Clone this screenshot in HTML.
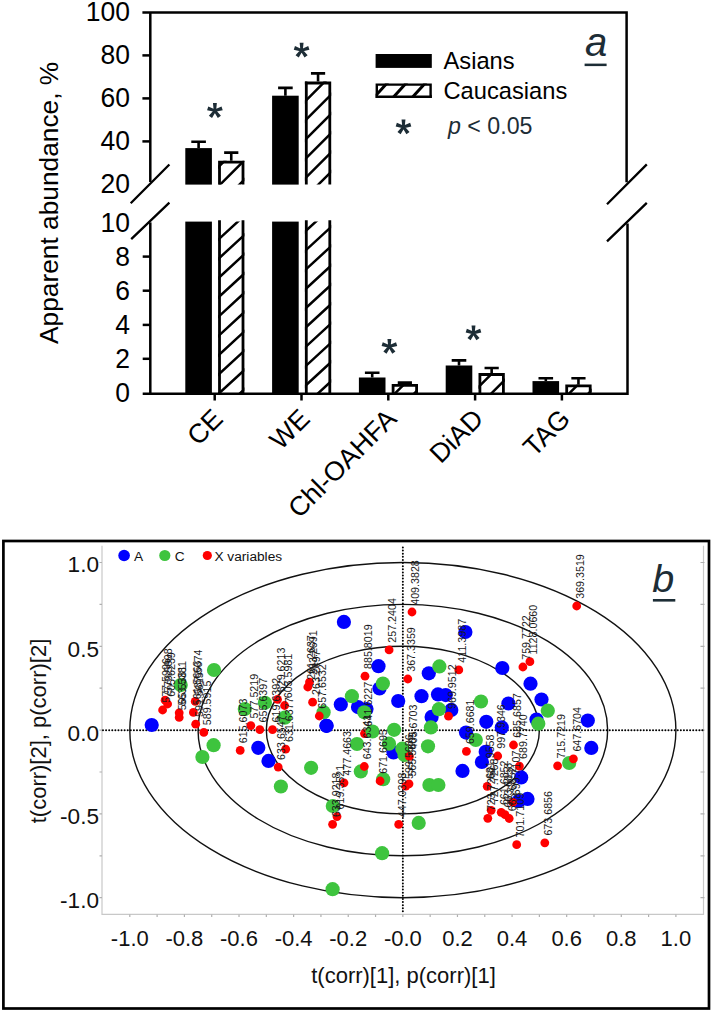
<!DOCTYPE html>
<html><head><meta charset="utf-8"><style>
html,body{margin:0;padding:0;background:#fff;}
svg{display:block;}
text{font-family:"Liberation Sans",sans-serif;}
</style></head><body>
<svg width="712" height="1013" viewBox="0 0 712 1013">
<rect width="712" height="1013" fill="#fff"/>
<g stroke="#000" stroke-width="2.5" fill="none">
<path d="M142.4 12.4H626.6 V182.3"/>
<path d="M150.3 12.4V182"/>
<path d="M142.4 55.4H150.3"/>
<path d="M142.4 98.4H150.3"/>
<path d="M142.4 141.4H150.3"/>
<path d="M150.3 222.4V393.7"/>
<path d="M142.7 393.7H627.5 V223.4"/>
<path d="M142.7 256.6H150.3"/>
<path d="M142.7 290.7H150.3"/>
<path d="M142.7 324.9H150.3"/>
<path d="M142.7 358.8H150.3"/>
<path d="M214.7 393.7V400.5"/>
<path d="M301.5 393.7V400.5"/>
<path d="M388.3 393.7V400.5"/>
<path d="M475.1 393.7V400.5"/>
<path d="M561.9 393.7V400.5"/>
<path d="M130.7 203.3L169.4 164.5M131.2 239.2L169.4 202.7" stroke-width="2.3"/>
<path d="M607 204.2L646.8 164.4M607 241.4L646.8 202.9" stroke-width="2.3"/>
</g>
<g font-family="Liberation Sans" font-size="26.5" text-anchor="end" fill="#000">
<text transform="translate(130 21.40) scale(1 1.07)">100</text>
<text transform="translate(130 64.40) scale(1 1.07)">80</text>
<text transform="translate(130 107.40) scale(1 1.07)">60</text>
<text transform="translate(130 150.40) scale(1 1.07)">40</text>
<text transform="translate(130 193.40) scale(1 1.07)">20</text>
<text transform="translate(130 231.50) scale(1 1.07)">10</text>
<text transform="translate(130 265.60) scale(1 1.07)">8</text>
<text transform="translate(130 299.70) scale(1 1.07)">6</text>
<text transform="translate(130 333.90) scale(1 1.07)">4</text>
<text transform="translate(130 367.80) scale(1 1.07)">2</text>
<text transform="translate(130 402.20) scale(1 1.07)">0</text>
</g>
<text transform="translate(58 344) rotate(-90)" font-family="Liberation Sans" font-size="26.3">Apparent abundance, %</text>
<g font-family="Liberation Sans" font-size="26.8" text-anchor="end">
<text transform="translate(224.5 420.4) rotate(-45)">CE</text>
<text transform="translate(311.3 420.4) rotate(-45)">WE</text>
<text transform="translate(398.1 420.4) rotate(-45)">Chl-OAHFA</text>
<text transform="translate(484.9 420.4) rotate(-45)">DiAD</text>
<text transform="translate(571.7 420.4) rotate(-45)">TAG</text>
</g>
<defs>
<clipPath id="cu"><rect x="0" y="0" width="712" height="184.6"/></clipPath>
<clipPath id="cl"><rect x="0" y="221.6" width="712" height="172.1"/></clipPath>
</defs>
<rect x="185.30" y="148.10" width="26.60" height="36.50"/>
<rect x="185.30" y="221.60" width="26.60" height="172.10"/>
<clipPath id="h1"><rect x="218.10" y="160.70" width="26.30" height="23.90"/></clipPath>
<path clip-path="url(#h1)" d="M213.10 172.30L249.40 136.00M213.10 191.60L249.40 155.30M213.10 210.90L249.40 174.60" stroke="#000" stroke-width="2.5" fill="none"/>
<path d="M219.50 160.70V184.60M243.00 160.70V184.60M218.10 162.10H244.40" stroke="#000" stroke-width="2.8" fill="none"/>
<clipPath id="h2"><rect x="218.10" y="221.60" width="26.30" height="172.10"/></clipPath>
<path clip-path="url(#h2)" d="M213.10 225.09L249.40 191.70M213.10 244.39L249.40 211.00M213.10 263.69L249.40 230.30M213.10 282.99L249.40 249.60M213.10 302.29L249.40 268.90M213.10 321.59L249.40 288.20M213.10 340.89L249.40 307.50M213.10 360.19L249.40 326.80M213.10 379.49L249.40 346.10M213.10 398.79L249.40 365.40M213.10 418.09L249.40 384.70" stroke="#000" stroke-width="2.5" fill="none"/>
<path d="M219.50 220.20V393.70M243.00 220.20V393.70" stroke="#000" stroke-width="2.8" fill="none"/>
<path d="M198.60 148.10V141.70M191.30 141.70H205.90" stroke="#000" stroke-width="2.6" fill="none"/>
<path d="M231.25 160.70V152.60M224.15 152.60H238.35" stroke="#000" stroke-width="2.6" fill="none"/>
<rect x="272.10" y="95.70" width="26.60" height="88.90"/>
<rect x="272.10" y="221.60" width="26.60" height="172.10"/>
<clipPath id="h3"><rect x="304.90" y="81.60" width="26.30" height="103.00"/></clipPath>
<path clip-path="url(#h3)" d="M299.90 87.20L336.20 50.90M299.90 106.50L336.20 70.20M299.90 125.80L336.20 89.50M299.90 145.10L336.20 108.80M299.90 164.40L336.20 128.10M299.90 183.70L336.20 147.40M299.90 203.00L336.20 166.70M299.90 222.30L336.20 186.00" stroke="#000" stroke-width="2.5" fill="none"/>
<path d="M306.30 81.60V184.60M329.80 81.60V184.60M304.90 83.00H331.20" stroke="#000" stroke-width="2.8" fill="none"/>
<clipPath id="h4"><rect x="304.90" y="221.60" width="26.30" height="172.10"/></clipPath>
<path clip-path="url(#h4)" d="M299.90 217.02L336.20 183.63M299.90 236.32L336.20 202.93M299.90 255.62L336.20 222.23M299.90 274.92L336.20 241.53M299.90 294.22L336.20 260.83M299.90 313.52L336.20 280.13M299.90 332.82L336.20 299.43M299.90 352.12L336.20 318.73M299.90 371.42L336.20 338.03M299.90 390.72L336.20 357.33M299.90 410.02L336.20 376.63M299.90 429.32L336.20 395.93" stroke="#000" stroke-width="2.5" fill="none"/>
<path d="M306.30 220.20V393.70M329.80 220.20V393.70" stroke="#000" stroke-width="2.8" fill="none"/>
<path d="M285.40 95.70V87.90M278.10 87.90H292.70" stroke="#000" stroke-width="2.6" fill="none"/>
<path d="M318.05 81.60V73.40M310.95 73.40H325.15" stroke="#000" stroke-width="2.6" fill="none"/>
<rect x="358.90" y="377.50" width="26.60" height="16.20"/>
<clipPath id="h5"><rect x="391.70" y="384.00" width="26.30" height="9.70"/></clipPath>
<path clip-path="url(#h5)" d="M386.70 382.40L423.00 346.10M386.70 401.70L423.00 365.40M386.70 421.00L423.00 384.70" stroke="#000" stroke-width="2.5" fill="none"/>
<path d="M393.10 384.00V393.70M416.60 384.00V393.70M391.70 385.40H418.00" stroke="#000" stroke-width="2.8" fill="none"/>
<path d="M372.20 377.50V372.80M364.90 372.80H379.50" stroke="#000" stroke-width="2.6" fill="none"/>
<path d="M404.85 384.00V382.60M397.75 382.60H411.95" stroke="#000" stroke-width="2.6" fill="none"/>
<rect x="445.70" y="365.50" width="26.60" height="28.20"/>
<clipPath id="h6"><rect x="478.50" y="373.10" width="26.30" height="20.60"/></clipPath>
<path clip-path="url(#h6)" d="M473.50 372.70L509.80 336.40M473.50 392.00L509.80 355.70M473.50 411.30L509.80 375.00M473.50 430.60L509.80 394.30" stroke="#000" stroke-width="2.5" fill="none"/>
<path d="M479.90 373.10V393.70M503.40 373.10V393.70M478.50 374.50H504.80" stroke="#000" stroke-width="2.8" fill="none"/>
<path d="M459.00 365.50V360.40M451.70 360.40H466.30" stroke="#000" stroke-width="2.6" fill="none"/>
<path d="M491.65 373.10V368.00M484.55 368.00H498.75" stroke="#000" stroke-width="2.6" fill="none"/>
<rect x="532.50" y="381.10" width="26.60" height="12.60"/>
<clipPath id="h7"><rect x="565.30" y="384.40" width="26.30" height="9.30"/></clipPath>
<path clip-path="url(#h7)" d="M560.30 383.00L596.60 346.70M560.30 402.30L596.60 366.00M560.30 421.60L596.60 385.30" stroke="#000" stroke-width="2.5" fill="none"/>
<path d="M566.70 384.40V393.70M590.20 384.40V393.70M565.30 385.80H591.60" stroke="#000" stroke-width="2.8" fill="none"/>
<path d="M545.80 381.10V378.20M538.50 378.20H553.10" stroke="#000" stroke-width="2.6" fill="none"/>
<path d="M578.45 384.40V378.20M571.35 378.20H585.55" stroke="#000" stroke-width="2.6" fill="none"/>
<path d="M216.10 110.70L216.85 103.10L212.95 103.10L213.70 110.70ZM215.27 111.84L222.73 110.21L221.53 106.50L214.53 109.56ZM213.93 111.41L217.79 117.99L220.94 115.70L215.87 109.99ZM213.93 109.99L208.86 115.70L212.01 117.99L215.87 111.41ZM215.27 109.56L208.27 106.50L207.07 110.21L214.53 111.84Z" fill="#1d2d36"/>
<circle cx="214.90" cy="110.70" r="1.9" fill="#1d2d36"/>
<path d="M302.80 50.30L303.55 42.70L299.65 42.70L300.40 50.30ZM301.97 51.44L309.43 49.81L308.23 46.10L301.23 49.16ZM300.63 51.01L304.49 57.59L307.64 55.30L302.57 49.59ZM300.63 49.59L295.56 55.30L298.71 57.59L302.57 51.01ZM301.97 49.16L294.97 46.10L293.77 49.81L301.23 51.44Z" fill="#1d2d36"/>
<circle cx="301.60" cy="50.30" r="1.9" fill="#1d2d36"/>
<path d="M390.60 346.50L391.35 338.90L387.45 338.90L388.20 346.50ZM389.77 347.64L397.23 346.01L396.03 342.30L389.03 345.36ZM388.43 347.21L392.29 353.79L395.44 351.50L390.37 345.79ZM388.43 345.79L383.36 351.50L386.51 353.79L390.37 347.21ZM389.77 345.36L382.77 342.30L381.57 346.01L389.03 347.64Z" fill="#1d2d36"/>
<circle cx="389.40" cy="346.50" r="1.9" fill="#1d2d36"/>
<path d="M474.70 333.00L475.45 325.40L471.55 325.40L472.30 333.00ZM473.87 334.14L481.33 332.51L480.13 328.80L473.13 331.86ZM472.53 333.71L476.39 340.29L479.54 338.00L474.47 332.29ZM472.53 332.29L467.46 338.00L470.61 340.29L474.47 333.71ZM473.87 331.86L466.87 328.80L465.67 332.51L473.13 334.14Z" fill="#1d2d36"/>
<circle cx="473.50" cy="333.00" r="1.9" fill="#1d2d36"/>
<rect x="375.6" y="54" width="56.2" height="13.9" fill="#000"/>
<clipPath id="h8"><rect x="375.60" y="83.40" width="56.20" height="14.60"/></clipPath>
<path clip-path="url(#h8)" d="M370.60 80.21L436.80 7.39M370.60 101.22L436.80 28.40M370.60 122.23L436.80 49.41M370.60 143.24L436.80 70.42M370.60 164.25L436.80 91.43" stroke="#000" stroke-width="3.0" fill="none"/>
<path d="M376.80 83.40V98.00M430.60 83.40V98.00M375.60 84.60H431.80M375.60 96.80H431.80" stroke="#000" stroke-width="2.4" fill="none"/>
<g font-family="Liberation Sans" font-size="23.7" fill="#000">
<text x="443.5" y="68.7">Asians</text>
<text x="443.5" y="98.8">Caucasians</text>
</g>
<path d="M404.70 127.00L405.45 119.40L401.55 119.40L402.30 127.00ZM403.87 128.14L411.33 126.51L410.13 122.80L403.13 125.86ZM402.53 127.71L406.39 134.29L409.54 132.00L404.47 126.29ZM402.53 126.29L397.46 132.00L400.61 134.29L404.47 127.71ZM403.87 125.86L396.87 122.80L395.67 126.51L403.13 128.14Z" fill="#1d2d36"/>
<circle cx="403.50" cy="127.00" r="1.9" fill="#1d2d36"/>
<text x="448" y="134" font-family="Liberation Sans" font-size="23.2" fill="#1d2d36"><tspan font-style="italic">p</tspan> &lt; 0.05</text>
<text x="585" y="56.3" font-family="Liberation Sans" font-size="40" font-style="italic" fill="#1d2d36">a</text>
<rect x="584.6" y="63.6" width="22" height="2.5" fill="#1d2d36"/>
<rect x="3.4" y="541" width="705.6" height="467.5" fill="none" stroke="#000" stroke-width="2.7"/>
<path d="M102 545.7V914.4H703.5V545.7" stroke="#c8c8c8" stroke-width="1.2" fill="none"/>
<path d="M129.80 914.40V916.90M157.11 914.40V916.90M184.41 914.40V916.90M211.72 914.40V916.90M239.02 914.40V916.90M266.33 914.40V916.90M293.63 914.40V916.90M320.94 914.40V916.90M348.24 914.40V916.90M375.55 914.40V916.90M402.85 914.40V916.90M430.16 914.40V916.90M457.46 914.40V916.90M484.77 914.40V916.90M512.07 914.40V916.90M539.38 914.40V916.90M566.68 914.40V916.90M593.99 914.40V916.90M621.29 914.40V916.90M648.60 914.40V916.90M675.90 914.40V916.90M99.50 897.70H102.00M700.50 897.70H704.50M99.50 855.80H102.00M700.50 855.80H704.50M99.50 813.90H102.00M700.50 813.90H704.50M99.50 772.00H102.00M700.50 772.00H704.50M99.50 730.10H102.00M700.50 730.10H704.50M99.50 688.20H102.00M700.50 688.20H704.50M99.50 646.30H102.00M700.50 646.30H704.50M99.50 604.40H102.00M700.50 604.40H704.50M99.50 562.50H102.00M700.50 562.50H704.50" stroke="#b0b0b0" stroke-width="1.2" fill="none"/>
<ellipse cx="402.85" cy="730.10" rx="273.05" ry="167.60" fill="none" stroke="#111" stroke-width="1.4"/>
<ellipse cx="402.85" cy="730.10" rx="204.79" ry="125.70" fill="none" stroke="#111" stroke-width="1.4"/>
<ellipse cx="402.85" cy="730.10" rx="136.53" ry="83.80" fill="none" stroke="#111" stroke-width="1.4"/>
<path d="M103.0 730.30H703.5" stroke="#000" stroke-width="2.0" stroke-linecap="round" stroke-dasharray="0 3.09" fill="none"/>
<path d="M402.85 547.5V914.4" stroke="#000" stroke-width="2.0" stroke-linecap="round" stroke-dasharray="0 3.11" fill="none"/>
<g font-family="Liberation Sans" font-size="22" fill="#111">
<text x="129.80" y="945.6" text-anchor="middle">-1.0</text>
<text x="184.41" y="945.6" text-anchor="middle">-0.8</text>
<text x="239.02" y="945.6" text-anchor="middle">-0.6</text>
<text x="293.63" y="945.6" text-anchor="middle">-0.4</text>
<text x="348.24" y="945.6" text-anchor="middle">-0.2</text>
<text x="402.85" y="945.6" text-anchor="middle">-0.0</text>
<text x="457.46" y="945.6" text-anchor="middle">0.2</text>
<text x="512.07" y="945.6" text-anchor="middle">0.4</text>
<text x="566.68" y="945.6" text-anchor="middle">0.6</text>
<text x="621.29" y="945.6" text-anchor="middle">0.8</text>
<text x="675.90" y="945.6" text-anchor="middle">1.0</text>
<text x="99" y="571.80" text-anchor="end" font-size="22.6">1.0</text>
<text x="99" y="656.50" text-anchor="end" font-size="22.6">0.5</text>
<text x="99" y="740.70" text-anchor="end" font-size="22.6">0.0</text>
<text x="99" y="823.90" text-anchor="end" font-size="22.6">-0.5</text>
<text x="99" y="907.70" text-anchor="end" font-size="22.6">-1.0</text>
<text x="403.5" y="983.4" text-anchor="middle">t(corr)[1], p(corr)[1]</text>
<text transform="translate(46 731) rotate(-90)" text-anchor="middle">t(corr)[2], p(corr)[2]</text>
</g>
<circle cx="124.1" cy="555.5" r="5.8" fill="#0000ff"/>
<circle cx="164.8" cy="555.5" r="5.6" fill="#3ec43e"/>
<circle cx="207.3" cy="555.5" r="4.6" fill="#ff0000"/>
<g font-family="Liberation Sans" font-size="13.7" fill="#111">
<text x="134" y="561">A</text><text x="174.8" y="561">C</text><text x="214.4" y="560.8">X variables</text>
</g>
<text x="652.2" y="592.2" font-family="Liberation Sans" font-size="39.5" font-style="italic" fill="#1d2d36">b</text>
<rect x="652.9" y="599" width="22.4" height="2.6" fill="#1d2d36"/>
<circle cx="151.7" cy="725.0" r="7.1" fill="#0000ff"/>
<circle cx="343.9" cy="621.9" r="7.1" fill="#0000ff"/>
<circle cx="378.5" cy="666.2" r="7.1" fill="#0000ff"/>
<circle cx="379.5" cy="688.5" r="7.1" fill="#0000ff"/>
<circle cx="398.2" cy="701.0" r="7.1" fill="#0000ff"/>
<circle cx="428.8" cy="673.3" r="7.1" fill="#0000ff"/>
<circle cx="421.5" cy="696.2" r="7.1" fill="#0000ff"/>
<circle cx="438.0" cy="694.4" r="7.1" fill="#0000ff"/>
<circle cx="445.7" cy="695.1" r="7.1" fill="#0000ff"/>
<circle cx="451.3" cy="709.9" r="7.1" fill="#0000ff"/>
<circle cx="431.6" cy="716.9" r="7.1" fill="#0000ff"/>
<circle cx="465.4" cy="632.0" r="7.1" fill="#0000ff"/>
<circle cx="502.3" cy="668.0" r="7.1" fill="#0000ff"/>
<circle cx="530.5" cy="683.7" r="7.1" fill="#0000ff"/>
<circle cx="541.5" cy="699.5" r="7.1" fill="#0000ff"/>
<circle cx="536.5" cy="719.5" r="7.1" fill="#0000ff"/>
<circle cx="587.8" cy="720.6" r="7.1" fill="#0000ff"/>
<circle cx="591.3" cy="747.9" r="7.1" fill="#0000ff"/>
<circle cx="508.4" cy="703.5" r="7.1" fill="#0000ff"/>
<circle cx="486.3" cy="721.8" r="7.1" fill="#0000ff"/>
<circle cx="501.8" cy="727.4" r="7.1" fill="#0000ff"/>
<circle cx="466.0" cy="732.6" r="7.1" fill="#0000ff"/>
<circle cx="485.7" cy="751.8" r="7.1" fill="#0000ff"/>
<circle cx="481.9" cy="762.0" r="7.1" fill="#0000ff"/>
<circle cx="462.5" cy="770.9" r="7.1" fill="#0000ff"/>
<circle cx="521.2" cy="777.4" r="7.1" fill="#0000ff"/>
<circle cx="527.5" cy="798.9" r="7.1" fill="#0000ff"/>
<circle cx="518.6" cy="801.0" r="7.1" fill="#0000ff"/>
<circle cx="326.5" cy="725.8" r="7.1" fill="#0000ff"/>
<circle cx="340.8" cy="704.4" r="7.1" fill="#0000ff"/>
<circle cx="358.0" cy="707.1" r="7.1" fill="#0000ff"/>
<circle cx="366.5" cy="709.0" r="7.1" fill="#0000ff"/>
<circle cx="258.3" cy="747.8" r="7.1" fill="#0000ff"/>
<circle cx="268.5" cy="760.9" r="7.1" fill="#0000ff"/>
<circle cx="393.5" cy="752.5" r="7.1" fill="#0000ff"/>
<circle cx="364.5" cy="733.6" r="4.4" fill="#ff0000"/>
<circle cx="214.0" cy="670.0" r="7.1" fill="#3ec43e"/>
<circle cx="180.7" cy="685.1" r="7.1" fill="#3ec43e"/>
<circle cx="213.6" cy="745.2" r="7.1" fill="#3ec43e"/>
<circle cx="202.4" cy="757.0" r="7.1" fill="#3ec43e"/>
<circle cx="244.8" cy="709.1" r="7.1" fill="#3ec43e"/>
<circle cx="264.9" cy="702.8" r="7.1" fill="#3ec43e"/>
<circle cx="284.8" cy="717.7" r="7.1" fill="#3ec43e"/>
<circle cx="323.6" cy="712.2" r="7.1" fill="#3ec43e"/>
<circle cx="280.9" cy="786.5" r="7.1" fill="#3ec43e"/>
<circle cx="311.1" cy="767.8" r="7.1" fill="#3ec43e"/>
<circle cx="357.0" cy="744.0" r="7.1" fill="#3ec43e"/>
<circle cx="360.8" cy="771.4" r="7.1" fill="#3ec43e"/>
<circle cx="332.8" cy="806.0" r="7.1" fill="#3ec43e"/>
<circle cx="332.6" cy="889.2" r="7.1" fill="#3ec43e"/>
<circle cx="382.9" cy="683.6" r="7.1" fill="#3ec43e"/>
<circle cx="351.9" cy="696.2" r="7.1" fill="#3ec43e"/>
<circle cx="364.3" cy="712.3" r="7.1" fill="#3ec43e"/>
<circle cx="372.5" cy="731.5" r="7.1" fill="#3ec43e"/>
<circle cx="389.0" cy="743.7" r="7.1" fill="#3ec43e"/>
<circle cx="402.3" cy="748.7" r="7.1" fill="#3ec43e"/>
<circle cx="394.1" cy="729.8" r="7.1" fill="#3ec43e"/>
<circle cx="383.2" cy="779.2" r="7.1" fill="#3ec43e"/>
<circle cx="428.0" cy="746.3" r="7.1" fill="#3ec43e"/>
<circle cx="429.4" cy="785.0" r="7.1" fill="#3ec43e"/>
<circle cx="438.4" cy="785.0" r="7.1" fill="#3ec43e"/>
<circle cx="418.7" cy="822.9" r="7.1" fill="#3ec43e"/>
<circle cx="382.1" cy="853.2" r="7.1" fill="#3ec43e"/>
<circle cx="439.4" cy="666.4" r="7.1" fill="#3ec43e"/>
<circle cx="438.9" cy="709.2" r="7.1" fill="#3ec43e"/>
<circle cx="430.9" cy="727.4" r="7.1" fill="#3ec43e"/>
<circle cx="481.0" cy="701.5" r="7.1" fill="#3ec43e"/>
<circle cx="475.8" cy="740.0" r="7.1" fill="#3ec43e"/>
<circle cx="547.8" cy="710.7" r="7.1" fill="#3ec43e"/>
<circle cx="538.3" cy="723.7" r="7.1" fill="#3ec43e"/>
<circle cx="569.2" cy="763.0" r="7.1" fill="#3ec43e"/>
<circle cx="404.5" cy="755.0" r="7.1" fill="#3ec43e"/>
<circle cx="326.5" cy="725.8" r="7.1" fill="#0000ff"/>
<circle cx="162.6" cy="710.0" r="4.4" fill="#ff0000"/>
<circle cx="167.6" cy="704.0" r="4.4" fill="#ff0000"/>
<circle cx="165.1" cy="700.2" r="4.4" fill="#ff0000"/>
<circle cx="179.2" cy="712.8" r="4.4" fill="#ff0000"/>
<circle cx="179.2" cy="717.4" r="4.4" fill="#ff0000"/>
<circle cx="195.2" cy="701.4" r="4.4" fill="#ff0000"/>
<circle cx="193.4" cy="712.4" r="4.4" fill="#ff0000"/>
<circle cx="195.7" cy="724.2" r="4.4" fill="#ff0000"/>
<circle cx="203.8" cy="732.4" r="4.4" fill="#ff0000"/>
<circle cx="240.2" cy="750.4" r="4.4" fill="#ff0000"/>
<circle cx="250.8" cy="725.6" r="4.4" fill="#ff0000"/>
<circle cx="259.8" cy="729.6" r="4.4" fill="#ff0000"/>
<circle cx="272.5" cy="729.6" r="4.4" fill="#ff0000"/>
<circle cx="277.5" cy="699.4" r="4.4" fill="#ff0000"/>
<circle cx="284.6" cy="705.5" r="4.4" fill="#ff0000"/>
<circle cx="285.7" cy="749.2" r="4.4" fill="#ff0000"/>
<circle cx="278.2" cy="767.1" r="4.4" fill="#ff0000"/>
<circle cx="307.8" cy="687.0" r="4.4" fill="#ff0000"/>
<circle cx="309.5" cy="682.1" r="4.4" fill="#ff0000"/>
<circle cx="312.6" cy="702.2" r="4.4" fill="#ff0000"/>
<circle cx="319.3" cy="716.0" r="4.4" fill="#ff0000"/>
<circle cx="365.0" cy="676.2" r="4.4" fill="#ff0000"/>
<circle cx="364.3" cy="766.5" r="4.4" fill="#ff0000"/>
<circle cx="344.0" cy="782.8" r="4.4" fill="#ff0000"/>
<circle cx="337.0" cy="816.6" r="4.4" fill="#ff0000"/>
<circle cx="332.6" cy="824.3" r="4.4" fill="#ff0000"/>
<circle cx="380.1" cy="781.0" r="4.4" fill="#ff0000"/>
<circle cx="398.7" cy="824.4" r="4.4" fill="#ff0000"/>
<circle cx="409.4" cy="756.4" r="4.4" fill="#ff0000"/>
<circle cx="409.0" cy="783.8" r="4.4" fill="#ff0000"/>
<circle cx="405.8" cy="786.1" r="4.4" fill="#ff0000"/>
<circle cx="407.8" cy="679.0" r="4.4" fill="#ff0000"/>
<circle cx="412.0" cy="612.0" r="4.4" fill="#ff0000"/>
<circle cx="389.1" cy="649.9" r="4.4" fill="#ff0000"/>
<circle cx="458.8" cy="669.9" r="4.4" fill="#ff0000"/>
<circle cx="448.5" cy="716.2" r="4.4" fill="#ff0000"/>
<circle cx="466.4" cy="751.3" r="4.4" fill="#ff0000"/>
<circle cx="497.7" cy="756.0" r="4.4" fill="#ff0000"/>
<circle cx="513.5" cy="745.0" r="4.4" fill="#ff0000"/>
<circle cx="519.4" cy="766.1" r="4.4" fill="#ff0000"/>
<circle cx="487.2" cy="786.3" r="4.4" fill="#ff0000"/>
<circle cx="512.8" cy="802.4" r="4.4" fill="#ff0000"/>
<circle cx="491.2" cy="810.3" r="4.4" fill="#ff0000"/>
<circle cx="487.8" cy="818.3" r="4.4" fill="#ff0000"/>
<circle cx="501.2" cy="812.3" r="4.4" fill="#ff0000"/>
<circle cx="505.0" cy="814.7" r="4.4" fill="#ff0000"/>
<circle cx="509.2" cy="818.5" r="4.4" fill="#ff0000"/>
<circle cx="516.7" cy="844.7" r="4.4" fill="#ff0000"/>
<circle cx="544.8" cy="842.8" r="4.4" fill="#ff0000"/>
<circle cx="522.9" cy="667.0" r="4.4" fill="#ff0000"/>
<circle cx="529.9" cy="661.7" r="4.4" fill="#ff0000"/>
<circle cx="557.6" cy="765.8" r="4.4" fill="#ff0000"/>
<circle cx="573.4" cy="758.8" r="4.4" fill="#ff0000"/>
<circle cx="576.7" cy="606.0" r="4.4" fill="#ff0000"/>
<g font-family="Liberation Sans" font-size="10.7" fill="#1a1a1a">
<text transform="translate(169.7 702.8) rotate(-90)">577.5996</text>
<text transform="translate(174.7 696.8) rotate(-90)">605.6239</text>
<text transform="translate(172.2 693.0) rotate(-90)">579.5998</text>
<text transform="translate(186.3 705.6) rotate(-90)">563.5381</text>
<text transform="translate(186.3 710.2) rotate(-90)">565.5381</text>
<text transform="translate(202.3 694.2) rotate(-90)">587.5674</text>
<text transform="translate(200.5 705.2) rotate(-90)">561.5663</text>
<text transform="translate(202.8 717.0) rotate(-90)">591.5615</text>
<text transform="translate(210.9 725.2) rotate(-90)">589.5915</text>
<text transform="translate(247.3 743.2) rotate(-90)">615.6073</text>
<text transform="translate(257.9 718.4) rotate(-90)">577.5219</text>
<text transform="translate(266.9 722.4) rotate(-90)">655.6397</text>
<text transform="translate(279.6 722.4) rotate(-90)">619.6392</text>
<text transform="translate(284.6 692.2) rotate(-90)">629.6213</text>
<text transform="translate(291.7 698.3) rotate(-90)">603.5981</text>
<text transform="translate(292.8 742.0) rotate(-90)">631.6377</text>
<text transform="translate(285.3 759.9) rotate(-90)">633.6547</text>
<text transform="translate(314.9 679.8) rotate(-90)">261.2637</text>
<text transform="translate(316.6 674.9) rotate(-90)">283.2691</text>
<text transform="translate(319.7 695.0) rotate(-90)">263.2497</text>
<text transform="translate(326.4 708.8) rotate(-90)">657.6532</text>
<text transform="translate(372.1 669.0) rotate(-90)">885.8019</text>
<text transform="translate(371.6 726.4) rotate(-90)">641.6227</text>
<text transform="translate(371.4 759.3) rotate(-90)">643.6341</text>
<text transform="translate(351.1 775.6) rotate(-90)">477.4663</text>
<text transform="translate(344.1 809.4) rotate(-90)">619.3521</text>
<text transform="translate(339.7 817.1) rotate(-90)">633.9218</text>
<text transform="translate(387.2 773.8) rotate(-90)">671.6695</text>
<text transform="translate(405.8 817.2) rotate(-90)">447.0398</text>
<text transform="translate(416.5 749.2) rotate(-90)">405.6703</text>
<text transform="translate(416.1 776.6) rotate(-90)">565.5669</text>
<text transform="translate(412.9 778.9) rotate(-90)">599.5686</text>
<text transform="translate(414.9 671.8) rotate(-90)">367.3359</text>
<text transform="translate(419.1 604.8) rotate(-90)">409.3828</text>
<text transform="translate(396.2 642.7) rotate(-90)">257.2404</text>
<text transform="translate(465.9 662.7) rotate(-90)">411.3987</text>
<text transform="translate(455.6 709.0) rotate(-90)">969.9512</text>
<text transform="translate(473.5 744.1) rotate(-90)">659.6681</text>
<text transform="translate(504.8 748.8) rotate(-90)">997.9346</text>
<text transform="translate(520.6 737.8) rotate(-90)">685.6857</text>
<text transform="translate(526.5 758.9) rotate(-90)">689.7740</text>
<text transform="translate(494.3 779.1) rotate(-90)">681.9558</text>
<text transform="translate(519.9 795.2) rotate(-90)">699.7107</text>
<text transform="translate(498.3 803.1) rotate(-90)">727.7268</text>
<text transform="translate(494.9 811.1) rotate(-90)">723.7262</text>
<text transform="translate(508.3 805.1) rotate(-90)">661.6852</text>
<text transform="translate(512.1 807.5) rotate(-90)">663.6858</text>
<text transform="translate(516.3 811.3) rotate(-90)">665.6852</text>
<text transform="translate(523.8 837.5) rotate(-90)">701.7109</text>
<text transform="translate(551.9 835.6) rotate(-90)">673.6856</text>
<text transform="translate(530.0 659.8) rotate(-90)">759.7722</text>
<text transform="translate(537.0 654.5) rotate(-90)">1128.0660</text>
<text transform="translate(564.7 758.6) rotate(-90)">715.7219</text>
<text transform="translate(580.5 751.6) rotate(-90)">647.6704</text>
<text transform="translate(583.8 598.8) rotate(-90)">369.3519</text>
</g>
</svg></body></html>
